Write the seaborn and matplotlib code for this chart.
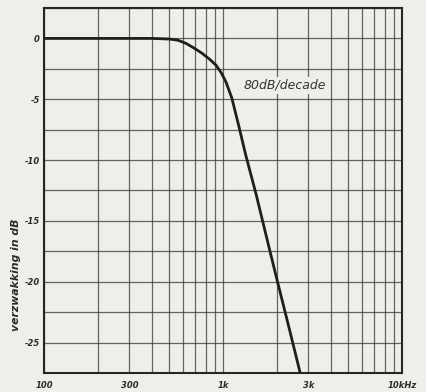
import numpy as np
import pandas as pd
import matplotlib
matplotlib.use("Agg")
import matplotlib.pyplot as plt
import seaborn as sns

# Low-pass filter response: attenuation versus frequency
freq_hz = [100, 200, 300, 400, 500, 560, 620, 690, 760, 840, 914, 980, 1040,
           1120, 1230, 1340, 1530, 1830, 2000, 2340, 2730]
atten_db = [0, 0, 0, 0, -0.05, -0.15, -0.4, -0.8, -1.2, -1.7, -2.2, -2.85,
            -3.6, -4.9, -7.3, -9.6, -12.8, -17.5, -19.8, -23.8, -27.8]

x_ticks = [100, 300, 1000, 3000, 10000]
x_labels = ["100", "300", "1k", "3k", "10kHz"]
y_ticks = [0, -5, -10, -15, -20, -25]
y_labels = ["0", "-5", "-10", "-15", "-20", "-25"]
slope_label = "80dB/decade"
y_title = "verzwakking in dB"

paper = "#efeee8"
ink = "#2b2b2b"

sns.set_theme(style="white")
plt.rcParams["font.family"] = ["DejaVu Sans"]

fig = plt.figure(figsize=(4.26, 3.92), dpi=100, facecolor=paper)
ax = fig.add_axes([0.1033, 0.0485, 0.8404, 0.9311])
ax.set_facecolor(paper)

df = pd.DataFrame({"f": freq_hz, "dB": atten_db})
sns.lineplot(data=df, x="f", y="dB", ax=ax, color="#1e1e1e", linewidth=2.0,
             sort=True, zorder=5)

ax.set_xscale("log")
ax.set_xlim(100, 10000)
ax.set_ylim(-27.5, 2.5)

# graph-paper grid: every 100 Hz / 1 kHz and every 2.5 dB
minor_x = [v for v in list(range(200, 1000, 100)) + list(range(2000, 10000, 1000))
           if v not in x_ticks]
ax.set_xticks(x_ticks)
ax.set_xticks(minor_x, minor=True)
ax.set_xticklabels(x_labels)
ax.set_yticks(y_ticks)
ax.set_yticks(np.arange(-27.5, 2.6, 2.5), minor=True)
ax.set_yticklabels(y_labels)
ax.xaxis.set_minor_formatter(matplotlib.ticker.NullFormatter())

ax.grid(which="both", axis="both", color="#353535", linewidth=0.9, alpha=0.75)
ax.set_axisbelow(True)

ax.tick_params(which="both", length=0)
ax.tick_params(axis="x", pad=6, labelsize=6, colors=ink)
ax.tick_params(axis="y", pad=3, labelsize=6, colors=ink)
for lab in ax.get_xticklabels() + ax.get_yticklabels():
    lab.set_fontstyle("italic")
    lab.set_fontweight("bold")

for sp in ax.spines.values():
    sp.set_color("#262626")
    sp.set_linewidth(1.5)

ax.set_xlabel("")
ax.set_ylabel(y_title, fontsize=7.8, fontstyle="italic", fontweight="bold", color=ink)
ax.yaxis.set_label_coords(-0.064, 0.268)

ax.text(2219, -3.85, slope_label, fontsize=9, fontstyle="italic",
        color="#333333", ha="center", va="center", zorder=6,
        bbox=dict(facecolor=paper, edgecolor="none", pad=1.5))

fig.savefig("out.png", dpi=100, facecolor=paper)
